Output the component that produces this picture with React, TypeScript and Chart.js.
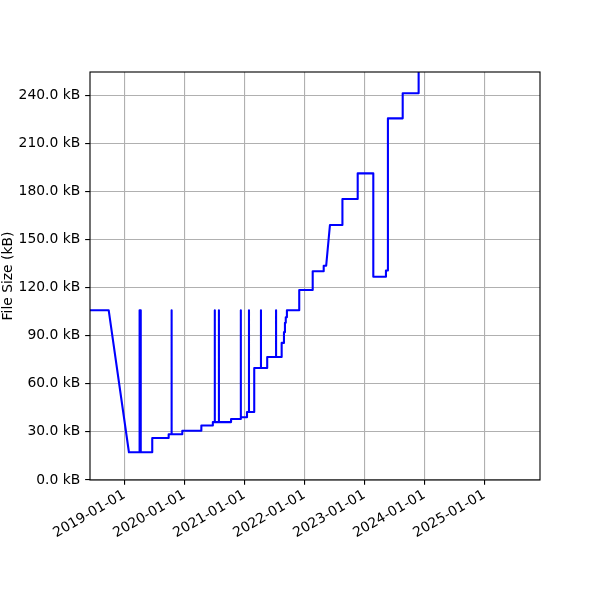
import { useEffect, useRef } from "react"
import { Chart, registerables } from "chart.js"

Chart.register(...registerables)

// commit dates and bundle size (kB); repeated dates make the vertical steps / spikes
const dates = [
  "2018-06-06", "2018-09-28", "2019-01-29",
  "2019-04-04", "2019-04-04", "2019-04-11", "2019-04-11",
  "2019-06-20", "2019-06-20",
  "2019-09-28", "2019-09-28",
  "2019-10-16", "2019-10-16", "2019-10-16",
  "2019-12-20", "2019-12-20",
  "2020-04-14", "2020-04-14",
  "2020-06-23", "2020-06-23",
  "2020-07-05", "2020-07-05", "2020-07-05",
  "2020-07-30", "2020-07-30", "2020-07-30",
  "2020-10-12", "2020-10-12",
  "2020-12-09", "2020-12-09",
  "2020-12-11", "2020-12-11", "2020-12-11",
  "2021-01-17", "2021-01-17",
  "2021-01-29", "2021-01-29", "2021-01-29",
  "2021-03-02", "2021-03-02",
  "2021-04-12", "2021-04-12", "2021-04-12",
  "2021-05-20", "2021-05-20",
  "2021-07-13", "2021-07-13", "2021-07-13",
  "2021-08-16", "2021-08-16",
  "2021-08-30", "2021-08-30",
  "2021-09-05", "2021-09-05",
  "2021-09-10", "2021-09-10",
  "2021-09-17", "2021-09-17",
  "2021-12-01", "2021-12-01",
  "2022-02-21", "2022-02-21",
  "2022-04-29", "2022-04-29",
  "2022-05-14", "2022-06-06",
  "2022-08-21", "2022-08-21",
  "2022-11-22", "2022-11-22",
  "2023-02-25", "2023-02-25",
  "2023-05-13", "2023-05-13",
  "2023-05-25", "2023-05-25",
  "2023-08-23", "2023-08-23",
  "2023-11-28", "2023-11-28",
]

const sizesKB = [
  105.8, 105.8, 17.3,
  17.3, 105.8, 105.8, 17.3,
  17.3, 26.2,
  26.2, 28.5,
  28.5, 105.8, 28.5,
  28.5, 30.7,
  30.7, 34.0,
  34.0, 36.1,
  36.1, 105.8, 36.1,
  36.1, 105.8, 36.1,
  36.1, 38.0,
  38.0, 39.1,
  39.1, 105.8, 39.1,
  39.1, 42.4,
  42.4, 105.8, 42.4,
  42.4, 69.8,
  69.8, 105.8, 69.8,
  69.8, 76.7,
  76.7, 105.8, 76.7,
  76.7, 85.5,
  85.5, 92.2,
  92.2, 98.0,
  98.0, 101.5,
  101.5, 105.8,
  105.8, 118.5,
  118.5, 130.2,
  130.2, 133.6,
  133.6, 159.0,
  159.0, 175.2,
  175.2, 191.2,
  191.2, 126.7,
  126.7, 130.6,
  130.6, 225.5,
  225.5, 241.1,
  241.1, 265.0,
]

const xTickDates = ["2019-01-01", "2020-01-01", "2021-01-01", "2022-01-01", "2023-01-01", "2024-01-01", "2025-01-01"]
const yTicks = [0, 30, 60, 90, 120, 150, 180, 210, 240]

const xMin = "2018-06-06"
const xMax = "2025-12-06"
const yMax = 254.4

const toMs = (d: string) => {
  const [y, m, day] = d.split("-").map(Number)
  return Date.UTC(y, m - 1, day)
}

// matplotlib sizes are in points at 100 dpi
const pt = 100 / 72
const font = { family: "'DejaVu Sans', sans-serif", size: 10 * pt }
const gridStyle = { color: "#b0b0b0", lineWidth: 0.8 * pt, tickColor: "#000", tickLength: 3.5 * pt, tickWidth: 0.8 * pt }

// box around the whole axes, like matplotlib spines
const frame = {
  id: "frame",
  afterDatasetsDraw(chart: Chart) {
    const { ctx, chartArea } = chart
    ctx.save()
    ctx.strokeStyle = "#000"
    ctx.lineWidth = 0.8 * pt
    ctx.strokeRect(chartArea.left, chartArea.top, chartArea.right - chartArea.left, chartArea.bottom - chartArea.top)
    ctx.restore()
  },
}

export default function App() {
  const canvasRef = useRef<HTMLCanvasElement>(null)
  const chartRef = useRef<Chart | null>(null)

  useEffect(() => {
    if (!canvasRef.current) return
    if (chartRef.current) chartRef.current.destroy()

    chartRef.current = new Chart(canvasRef.current, {
      type: "line",
      data: {
        datasets: [
          {
            data: dates.map((d, i) => ({ x: toMs(d), y: sizesKB[i] })),
            borderColor: "#0000ff",
            borderWidth: 1.5 * pt,
            borderJoinStyle: "round",
            pointRadius: 0,
            tension: 0,
            fill: false,
          },
        ],
      },
      options: {
        animation: false,
        responsive: true,
        maintainAspectRatio: false,
        layout: { padding: { left: 0, top: 72, right: 60, bottom: 0 } },
        plugins: { legend: { display: false }, tooltip: { enabled: false } },
        scales: {
          x: {
            type: "linear",
            min: toMs(xMin),
            max: toMs(xMax),
            afterBuildTicks: (scale) => {
              scale.ticks = xTickDates.map((d) => ({ value: toMs(d) }))
            },
            afterFit: (scale) => {
              scale.height = 120
            },
            grid: gridStyle,
            border: { display: false },
            ticks: {
              autoSkip: false,
              maxRotation: 30,
              minRotation: 30,
              padding: 2,
              color: "#000",
              font,
              callback: (v) => new Date(Number(v)).toISOString().slice(0, 10),
            },
          },
          y: {
            type: "linear",
            min: 0,
            max: yMax,
            afterBuildTicks: (scale) => {
              scale.ticks = yTicks.map((v) => ({ value: v }))
            },
            afterFit: (scale) => {
              scale.width = 90
            },
            grid: gridStyle,
            border: { display: false },
            ticks: {
              padding: 3.5 * pt,
              color: "#000",
              font,
              callback: (v) => Number(v).toFixed(1) + " kB",
            },
            title: { display: true, text: "File Size (kB)", color: "#000", font, padding: 0 },
          },
        },
      },
      plugins: [frame],
    })

    return () => {
      if (chartRef.current) {
        chartRef.current.destroy()
        chartRef.current = null
      }
    }
  }, [])

  return (
    <div style={{ position: "absolute", left: 0, top: 0, width: "600px", height: "600px", background: "#fff" }}>
      <canvas ref={canvasRef}></canvas>
    </div>
  )
}
